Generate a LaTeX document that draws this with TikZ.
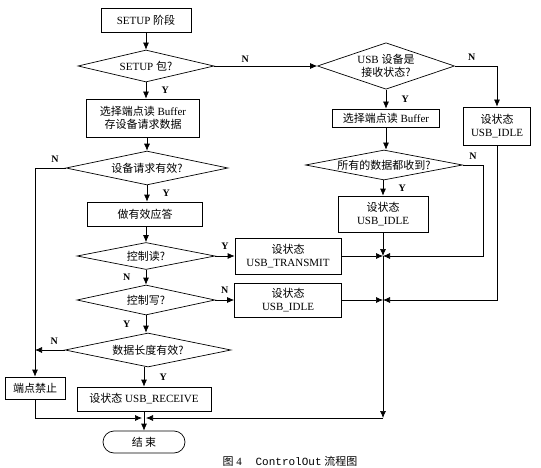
\documentclass[tikz,border=0pt]{standalone}
\usepackage{fontspec}
\setmainfont{Liberation Serif}
\setmonofont{Liberation Mono}
\newfontfamily\cjk{Noto Sans CJK SC}
\newcommand{\zh}[1]{{\cjk #1}}
\usetikzlibrary{positioning,arrows}
\usetikzlibrary{shapes}
\usetikzlibrary{arrows.meta}

\begin{document}
\begin{tikzpicture}[x=1pt,y=-1pt,>={Latex[length=7pt,width=6pt]},line width=0.7pt]
	\useasboundingbox (0,0) rectangle (541,468);
	\tikzstyle{every node}=[font=\fontsize{11}{13.5}\selectfont, draw, align=center, inner sep=1pt]
	\tikzstyle{proc}=[rectangle]
	\tikzstyle{cond}=[diamond, aspect=3, inner sep=0pt]
	% left column
	\draw (146,20) node (setup) [proc, minimum width=90pt, minimum height=24pt] {SETUP \zh{阶段}};
	\draw (146,66) node (isSetup) [cond, minimum width=136pt, minimum height=32pt] {SETUP \zh{包?}};
	\draw (143,118) node (readBuf) [proc, minimum width=113pt, minimum height=38pt] {\zh{选择端点读} Buffer\\\zh{存设备请求数据}};
	\draw (147,168) node (reqOk) [cond, minimum width=162pt, minimum height=30pt] {\zh{设备请求有效?}};
	\draw (145,214) node (ack) [proc, minimum width=115pt, minimum height=24pt] {\zh{做有效应答}};
	\draw (146,256) node (ctrlRd) [cond, minimum width=138pt, minimum height=27pt] {\zh{控制读?}};
	\draw (146,300) node (ctrlWr) [cond, minimum width=138pt, minimum height=30pt] {\zh{控制写?}};
	\draw (148,350) node (lenOk) [cond, minimum width=166pt, minimum height=34pt] {\zh{数据长度有效?}};
	\draw (144,399) node (setRecv) [proc, minimum width=134pt, minimum height=24pt] {\zh{设状态} USB\_RECEIVE};
	\draw (35,388) node (stall) [proc, minimum width=60pt, minimum height=22pt] {\zh{端点禁止}};
	\draw (144,442) node (finish) [proc, rounded corners=11pt, minimum width=82pt, minimum height=22pt] {\zh{结\ 束}};
	% middle and right
	\draw (288,256) node (setTx) [proc, minimum width=106pt, minimum height=36pt] {\zh{设状态}\\USB\_TRANSMIT};
	\draw (288,300) node (setIdleB) [proc, minimum width=107pt, minimum height=34pt] {\zh{设状态}\\USB\_IDLE};
	\draw (386,66) node (isRecv) [cond, aspect=2.5, minimum width=137pt, minimum height=46pt] {USB \zh{设备是}\\\zh{接收状态?}};
	\draw (386,118) node (readEp) [proc, minimum width=107pt, minimum height=18pt] {\zh{选择端点读} Buffer};
	\draw (384,165) node (allRx) [cond, aspect=5, minimum width=157pt, minimum height=30pt] {\zh{所有的数据都收到?}};
	\draw (383,214) node (setIdleA) [proc, minimum width=90pt, minimum height=36pt] {\zh{设状态}\\USB\_IDLE};
	\draw (497,126) node (setIdleC) [proc, minimum width=67pt, minimum height=38pt] {\zh{设状态}\\USB\_IDLE};
	\coordinate (j1) at (383,256);
	\coordinate (j2) at (383,300);
	\coordinate (jc) at (383,418);
	\coordinate (mL) at (142,418);
	\coordinate (mR) at (146,418);
	\coordinate (lft) at (35,168);
	\coordinate (bl) at (35,418);
	\draw (290,461) node (caption) [draw=none, font=\fontsize{11}{13}\selectfont] {\zh{图} 4\quad\ \texttt{ControlOut} \zh{流程图}};
	\tikzstyle{every node}=[font=\fontsize{10}{12}\selectfont\bfseries, draw=none, fill=none]
	\draw [->] (setup) to (isSetup);
	\draw [->] (isSetup) to node[right=12pt] {Y} (readBuf.north -| isSetup);
	\draw [->] (isSetup.east) to node[above, pos=0.3] {N} (isRecv.west);
	\draw [->] (readBuf.south -| reqOk) to (reqOk);
	\draw [->] (reqOk.west) -- node[above=2pt, pos=0.35] {N} (lft) -- (stall.north);
	\draw [->] (reqOk) to node[right=12pt] {Y} (ack.north -| reqOk);
	\draw [->] (ack.south -| ctrlRd) to (ctrlRd);
	\draw [->] (ctrlRd.east) to node[above=3pt, pos=0.5] {Y} (setTx.west);
	\draw [->] (ctrlRd) to node[left=12pt] {N} (ctrlWr);
	\draw [->] (ctrlWr.east) to node[above=3pt, pos=0.5] {N} (setIdleB.west);
	\draw [->] (ctrlWr) to node[left=12pt] {Y} (lenOk.north -| ctrlWr);
	\draw [->] (lenOk.west) to node[above=2pt, pos=0.35] {N} (lenOk.west -| stall);
	\draw [->] (lenOk.south -| setRecv) to node[right=12pt] {Y} (setRecv);
	\draw [->] (setRecv) to (finish);
	\draw [->] (stall.south) -- (bl) -- (mL);
	\draw [->] (isRecv) to node[right=12pt] {Y} (readEp);
	\draw [->] (readEp) to (allRx.north -| readEp);
	\draw [->] (allRx.south -| setIdleA) to node[right=12pt] {Y} (setIdleA);
	\draw [->] (isRecv.east) -- node[above=2pt, pos=0.4] {N} (isRecv.east -| setIdleC) -- (setIdleC.north);
	\draw [->] (allRx.east) -- node[above=2pt, pos=0.5] {N} (483,165) -- (483,256) -- (j1);
	\draw [->] (setIdleC.south) -- (setIdleC.south |- j2) -- (j2);
	\draw [->] (setTx.east) to (j1);
	\draw [->] (setIdleB.east) to (j2);
	\draw [->] (setIdleA.south) to (j1);
	\draw [->] (j1) to (jc);
	\draw [->] (jc) to (mR);
\end{tikzpicture}
\end{document}
